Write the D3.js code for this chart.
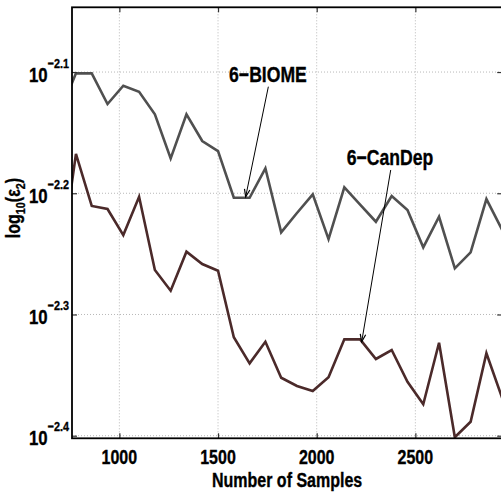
<!DOCTYPE html>
<html>
<head>
<meta charset="utf-8">
<script src="https://cdn.jsdelivr.net/npm/d3@7"></script>
<style>
  html, body { margin: 0; padding: 0; background: #fff; }
  svg { display: block; }
  text { font-family: 'Liberation Sans', Arial, Helvetica, sans-serif; font-weight: bold; fill: #000; stroke: #000; stroke-width: 0.35px; }
</style>
</head>
<body>
<script>
// ---- data ----
const samples = [700, 780, 860, 940, 1020, 1100, 1180, 1260, 1340, 1420, 1500, 1580, 1660, 1740, 1820,
                 1900, 1980, 2060, 2140, 2220, 2300, 2380, 2460, 2540, 2620, 2700, 2780, 2860, 2940];
// log10 of the error for each series
const biome = [-2.133, -2.1011, -2.1011, -2.1264, -2.1113, -2.1163, -2.1349, -2.1712, -2.1349, -2.1569,
               -2.1652, -2.2037, -2.2037, -2.1794, -2.2322, -2.2163, -2.2009, -2.2378, -2.1951, -2.2093,
               -2.2235, -2.2023, -2.2138, -2.2446, -2.2194, -2.2619, -2.2487, -2.2048, -2.2303];
const candep = [-2.26, -2.1676, -2.2105, -2.2130, -2.2345, -2.2029, -2.2633, -2.2804, -2.2482, -2.2584,
                -2.2639, -2.3188, -2.3403, -2.3225, -2.3522, -2.3590, -2.3631, -2.3518, -2.3205, -2.3205,
                -2.3367, -2.3293, -2.3555, -2.3741, -2.3233, -2.4013, -2.3885, -2.3320, -2.3689];
const xTicks = [1000, 1500, 2000, 2500];
const yTicks = [-2.4, -2.3, -2.2, -2.1];
const yTickExp = ["\u22122.4", "\u22122.3", "\u22122.2", "\u22122.1"];
const seriesNames = ["6\u2212BIOME", "6\u2212CanDep"];
const seriesColors = ["#505050", "#4b2a2a"];
// annotation: text anchor point, arrow start, arrow tip (data units)
const annText = [[1753, -2.108], [2371, -2.1767]];
const annFrom = [[1755, -2.1121], [2375, -2.1808]];
const annTo   = [[1640, -2.2029], [2228, -2.3225]];

// ---- layout ----
const W = 501, H = 493;
const svg = d3.select("body").append("svg").attr("width", W).attr("height", H);

const x = d3.scaleLinear().domain([760, 2940]).range([72, 502.2]);
const y = d3.scaleLinear().domain([-2.40214, -2.0466]).range([438.3, 7.3]);
const [x0, x1] = x.range();
const [y0, y1] = y.range();

svg.append("defs").append("clipPath").attr("id", "clip")
  .append("rect").attr("x", x0).attr("y", y1).attr("width", x1 - x0).attr("height", y0 - y1);

// grid
const grid = svg.append("g").attr("stroke", "#b8b8b8").attr("stroke-width", 1).attr("stroke-dasharray", "1,2");
grid.selectAll("line.gx").data(xTicks).join("line")
  .attr("x1", d => x(d)).attr("x2", d => x(d)).attr("y1", y0).attr("y2", y1);
grid.selectAll("line.gy").data(yTicks).join("line")
  .attr("y1", d => y(d)).attr("y2", d => y(d)).attr("x1", x0).attr("x2", x1);

// lines
const line = d3.line().x(d => x(d[0])).y(d => y(d[1]));
const plot = svg.append("g").attr("clip-path", "url(#clip)");
[biome, candep].forEach((s, i) => {
  plot.append("path")
    .datum(samples.map((v, j) => [v, s[j]]))
    .attr("d", line)
    .attr("fill", "none")
    .attr("stroke", seriesColors[i])
    .attr("stroke-width", 2.6)
    .attr("stroke-linejoin", "miter");
});

// axes (box with inward ticks)
const tl = 5;
const axBottom = d3.axisBottom(x).tickValues(xTicks).tickSize(-tl).tickFormat("");
const axTop = d3.axisTop(x).tickValues(xTicks).tickSize(-tl).tickFormat("");
const axLeft = d3.axisLeft(y).tickValues(yTicks).tickSize(-tl).tickFormat("");
const axRight = d3.axisRight(y).tickValues(yTicks).tickSize(-tl).tickFormat("");
function styleAx(g) {
  g.select(".domain").remove();
  g.selectAll(".tick line").attr("stroke", "#333").attr("stroke-width", 1.2);
}
svg.append("g").attr("transform", `translate(0,${y0})`).call(axBottom).call(styleAx);
svg.append("g").attr("transform", `translate(0,${y1})`).call(axTop).call(styleAx);
svg.append("g").attr("transform", `translate(${x0},0)`).call(axLeft).call(styleAx);
svg.append("g").attr("transform", `translate(${x1},0)`).call(axRight).call(styleAx);
svg.append("rect").attr("x", x0).attr("y", y1).attr("width", x1 - x0).attr("height", y0 - y1)
  .attr("fill", "none").attr("stroke", "#000").attr("stroke-width", 1.8);

// x tick labels
svg.append("g").selectAll("text").data(xTicks).join("text")
  .attr("x", d => x(d)).attr("y", 464).attr("text-anchor", "middle")
  .attr("font-size", 20).text(d => d);

// y tick labels 10^exp
const yl = svg.append("g").selectAll("text").data(yTicks).join("text")
  .attr("x", 69).attr("y", d => y(d) + 9.6).attr("text-anchor", "end").attr("font-size", 21);
yl.append("tspan").text("10");
yl.append("tspan").attr("font-size", 13.5).attr("dy", -14).text((d, i) => yTickExp[i]);

// axis titles
svg.append("text").attr("x", (x0 + x1) / 2).attr("y", 487).attr("text-anchor", "middle")
  .attr("font-size", 20).text("Number of Samples");
const ylab = svg.append("text").attr("transform", "translate(20,208) rotate(-90)")
  .attr("text-anchor", "middle").attr("font-size", 20);
ylab.append("tspan").text("log");
ylab.append("tspan").attr("font-size", 13.5).attr("dy", 5).text("10");
ylab.append("tspan").attr("dy", -5).text("(\u03b5");
ylab.append("tspan").attr("font-size", 13.5).attr("dy", 5).text("2");
ylab.append("tspan").attr("dy", -5).text(")");

// annotations
const ann = svg.append("g");
seriesNames.forEach((name, i) => {
  ann.append("text").attr("x", x(annText[i][0])).attr("y", y(annText[i][1]))
    .attr("text-anchor", "middle").attr("font-size", 22).text(name);
  const ax1 = x(annFrom[i][0]), ay1 = y(annFrom[i][1]);
  const ax2 = x(annTo[i][0]), ay2 = y(annTo[i][1]);
  ann.append("line").attr("x1", ax1).attr("y1", ay1).attr("x2", ax2).attr("y2", ay2)
    .attr("stroke", "#000").attr("stroke-width", 1);
  const ang = Math.atan2(ay2 - ay1, ax2 - ax1);
  const hl = 8, hw = 0.35;
  const p1 = [ax2 - hl * Math.cos(ang - hw), ay2 - hl * Math.sin(ang - hw)];
  const p2 = [ax2 - hl * Math.cos(ang + hw), ay2 - hl * Math.sin(ang + hw)];
  ann.append("path").attr("d", `M${p1[0]},${p1[1]}L${ax2},${ay2}L${p2[0]},${p2[1]}`)
    .attr("fill", "none").attr("stroke", "#000").attr("stroke-width", 1.2);
});

// condensed look of the original font: narrow every text horizontally
svg.selectAll("text").each(function () {
  const len = this.getComputedTextLength();
  if (len > 0) d3.select(this).attr("textLength", len * 0.8).attr("lengthAdjust", "spacingAndGlyphs");
});
</script>
</body>
</html>
